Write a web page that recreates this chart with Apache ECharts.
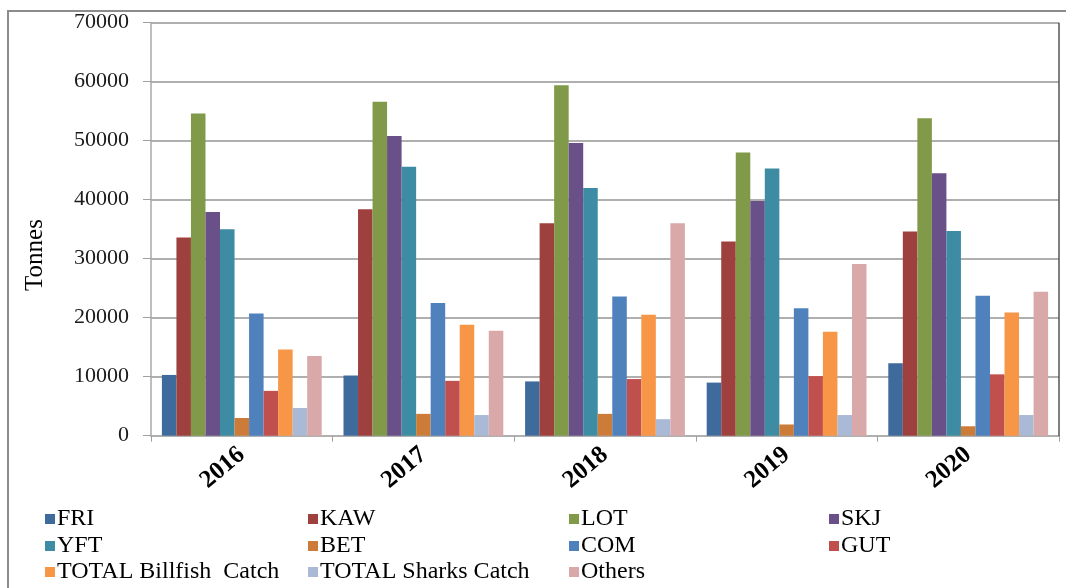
<!DOCTYPE html>
<html>
<head>
<meta charset="utf-8">
<script src="https://cdn.jsdelivr.net/npm/echarts@6/dist/echarts.min.js"></script>
<style>
  html, body { margin: 0; padding: 0; background: #ffffff; }
  #chart { width: 1066px; height: 588px; }
</style>
</head>
<body>
<div id="chart"></div>
<script>
// Annual catch by species group (tonnes)
const years = ['2016', '2017', '2018', '2019', '2020'];
const yTicks = [0, 10000, 20000, 30000, 40000, 50000, 60000, 70000];

const seriesNames = ['FRI', 'KAW', 'LOT', 'SKJ', 'YFT', 'BET', 'COM', 'GUT',
  'TOTAL Billfish  Catch', 'TOTAL Sharks Catch', 'Others'];

const FRI = [10300, 10200, 9200, 9000, 12300];
const KAW = [33600, 38400, 36000, 32900, 34600];
const LOT = [54600, 56600, 59400, 48000, 53800];
const SKJ = [37900, 50800, 49600, 39800, 44500];
const YFT = [35000, 45600, 42000, 45300, 34700];
const BET = [3000, 3700, 3700, 1900, 1600];
const COM = [20700, 22500, 23600, 21600, 23700];
const GUT = [7600, 9300, 9600, 10100, 10400];
const BILLFISH = [14600, 18800, 20500, 17600, 20900];
const SHARKS = [4700, 3500, 2800, 3500, 3500];
const OTHERS = [13500, 17800, 36000, 29100, 24400];

const seriesValues = [FRI, KAW, LOT, SKJ, YFT, BET, COM, GUT, BILLFISH, SHARKS, OTHERS];

const colors = ['#3F6A9C', '#9E413E', '#809A49', '#6A5088', '#3D8CA3', '#CC7C38',
  '#4F81BD', '#C0504D', '#F79646', '#AAB9D6', '#D9A9AA'];

const serif = '"Liberation Serif", "Times New Roman", serif';

const chart = echarts.init(document.getElementById('chart'), null, { renderer: 'canvas' });

// Legend grid: four columns, three rows, filled row by row
const legendColLeft = [40, 303, 564, 824];
const legendRowTop = [502, 529, 555];

const legends = seriesNames.map((name, i) => ({
  left: legendColLeft[i % 4],
  top: legendRowTop[Math.floor(i / 4)],
  data: [name],
  itemWidth: 10,
  itemHeight: 10,
  icon: 'rect',
  textStyle: { fontFamily: serif, fontSize: 24, color: '#000', padding: [0, 0, 0, -3] },
  selectedMode: false
}));

const option = {
  animation: false,
  backgroundColor: '#ffffff',
  color: colors,
  textStyle: { fontFamily: serif },
  grid: { left: 151, right: 7, top: 22.7, bottom: 152.3, containLabel: false },
  legend: legends,
  graphic: [
    {
      type: 'rect',
      shape: { x: 8, y: 11, width: 1080, height: 620 },
      style: { fill: 'none', stroke: '#8c8c8c', lineWidth: 2 },
      silent: true
    },
    {
      type: 'line',
      shape: { x1: 1059, y1: 22.7, x2: 1059, y2: 436 },
      style: { stroke: '#555', lineWidth: 1.5 },
      silent: true,
      z: 10
    },
    {
      type: 'text',
      x: 35,
      y: 255,
      rotation: Math.PI / 2,
      style: {
        text: 'Tonnes',
        font: '25px ' + serif,
        fill: '#000',
        align: 'center',
        verticalAlign: 'middle'
      },
      silent: true
    }
  ],
  xAxis: {
    type: 'category',
    data: years,
    axisLine: { lineStyle: { color: '#b0b0b0', width: 2 } },
    axisTick: { show: true, length: 6, lineStyle: { color: '#a0a0a0' } },
    axisLabel: {
      rotate: 40,
      margin: 16,
      fontFamily: serif,
      fontSize: 25,
      fontWeight: 'bold',
      color: '#000'
    }
  },
  yAxis: {
    type: 'value',
    min: yTicks[0],
    max: yTicks[yTicks.length - 1],
    interval: 10000,
    axisLine: { show: true, lineStyle: { color: '#a8a8a8', width: 1.5 } },
    axisTick: { show: true, length: 8, lineStyle: { color: '#a0a0a0' } },
    axisLabel: {
      margin: 22,
      fontFamily: serif,
      fontSize: 22,
      color: '#1a1a1a',
      formatter: v => String(v)
    },
    splitLine: { lineStyle: { color: '#949494', width: 1.5 } }
  },
  series: seriesNames.map((name, i) => ({
    name: name,
    type: 'bar',
    data: seriesValues[i],
    barGap: '0%',
    barCategoryGap: '12%',
    itemStyle: { color: colors[i] }
  }))
};

chart.setOption(option);
</script>
</body>
</html>
